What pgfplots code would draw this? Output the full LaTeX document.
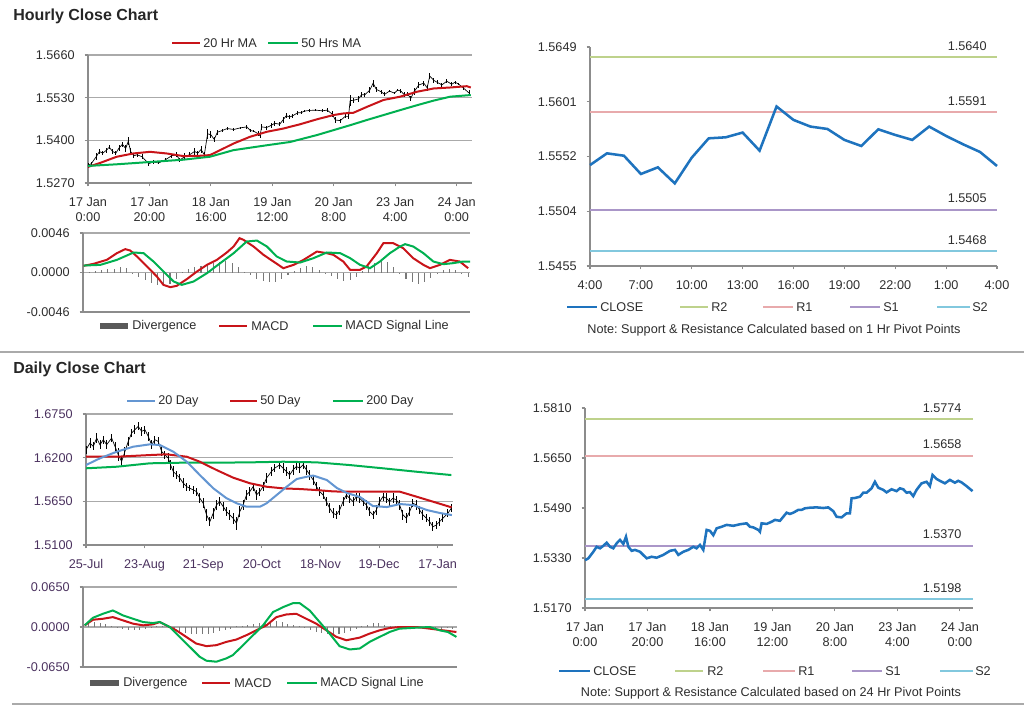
\documentclass[border=0pt]{standalone}
\usepackage{fontspec}
\setmainfont{Liberation Sans}
\usepackage{pgfplots}
\pgfplotsset{compat=1.18}
\usepackage{pgfplotstable}
\frenchspacing

\definecolor{mared}{RGB}{200,20,25}
\definecolor{magreen}{RGB}{0,176,80}
\definecolor{mablue}{RGB}{100,150,210}
\definecolor{closeblue}{RGB}{30,115,190}
\definecolor{rtwo}{RGB}{190,210,140}
\definecolor{rone}{RGB}{232,170,172}
\definecolor{sone}{RGB}{170,150,200}
\definecolor{stwo}{RGB}{130,200,222}
\definecolor{gridgray}{RGB}{170,170,170}
\definecolor{axgray}{RGB}{140,140,140}
\definecolor{divgray}{RGB}{120,120,120}
\definecolor{tickc}{RGB}{45,45,45}
\definecolor{tickd}{RGB}{75,50,95}
\definecolor{sepgray}{RGB}{170,170,170}

\newcommand\fs{\fontsize{9.5}{11.5}\selectfont}

\pgfplotstableread{
h c e
0 1.5323 0.0008
1.07 1.5329 0.0006
2.67 1.5350 0.0010
3.73 1.5366 0.0008
4.8 1.5361 0.0006
5.87 1.5369 0.0008
6.93 1.5379 0.0006
8.0 1.5366 0.0008
9.07 1.5361 0.0006
10.13 1.5377 0.0010
11.2 1.5388 0.0008
12.27 1.5375 0.0012
13.12 1.5398 0.0012
13.87 1.5366 0.0010
14.93 1.5353 0.0008
16 1.5356 0.0006
17.6 1.5350 0.0008
19.73 1.5329 0.0006
21.33 1.5334 0.0006
22.93 1.5331 0.0004
25.07 1.5340 0.0006
27.2 1.5353 0.0006
28.8 1.5356 0.0008
29.87 1.5340 0.0006
31.47 1.5350 0.0010
33.07 1.5356 0.0008
34.67 1.5366 0.0010
35.73 1.5361 0.0008
36.8 1.5372 0.0010
37.87 1.5356 0.0008
38.93 1.5420 0.0016
40 1.5417 0.0010
41.07 1.5403 0.0008
42.13 1.5425 0.0008
43.73 1.5430 0.0006
45.33 1.5436 0.0006
47.47 1.5433 0.0004
49.6 1.5438 0.0004
51.73 1.5441 0.0006
52.8 1.5430 0.0006
53.87 1.5428 0.0004
55.47 1.5420 0.0008
56 1.5414 0.0006
56.53 1.5441 0.0008
58.13 1.5439 0.0006
59.73 1.5446 0.0008
60.8 1.5452 0.0008
62.4 1.5449 0.0006
63.47 1.5462 0.0010
64.53 1.5475 0.0008
65.6 1.5471 0.0006
66.67 1.5475 0.0006
68.27 1.5484 0.0006
69.33 1.5484 0.0004
70.4 1.5489 0.0004
72 1.5491 0.0004
74.13 1.5492 0.0004
76.27 1.5490 0.0004
77.87 1.5492 0.0006
79.47 1.5480 0.0008
80.53 1.5462 0.0008
82.13 1.5460 0.0006
83.73 1.5473 0.0006
84.8 1.5473 0.0008
85.33 1.5521 0.0016
86.4 1.5522 0.0008
88 1.5526 0.0008
89.07 1.5539 0.0008
90.13 1.5539 0.0006
91.73 1.5553 0.0008
92.8 1.5574 0.0010
93.87 1.5555 0.0008
95.47 1.5548 0.0006
96.53 1.5540 0.0006
98.13 1.5550 0.0004
99.73 1.5544 0.0004
100.8 1.5553 0.0004
101.87 1.5550 0.0006
102.93 1.5539 0.0008
104 1.5541 0.0006
105.07 1.5528 0.0008
106.13 1.5548 0.0010
107.73 1.5569 0.0010
109.33 1.5574 0.0008
110.4 1.5560 0.0010
111.25 1.5596 0.0010
112.53 1.5583 0.0008
113.6 1.5577 0.0006
115.2 1.5569 0.0006
116.8 1.5580 0.0006
118.4 1.5571 0.0006
119.47 1.5577 0.0004
120.53 1.5572 0.0004
122.13 1.5560 0.0006
124.05 1.5544 0.0008
}\hourly

\pgfplotstableread{
d c e
0 1.6300 0.005
1.43 1.6384 0.006
2.62 1.6342 0.005
3.82 1.6447 0.006
5.01 1.6363 0.006
6.2 1.6426 0.005
7.4 1.6363 0.006
9.19 1.6447 0.005
10.38 1.6342 0.006
11.57 1.6236 0.008
12.77 1.6152 0.006
13.96 1.6279 0.006
15.15 1.6405 0.006
16.34 1.6510 0.005
17.54 1.6552 0.006
18.73 1.6594 0.005
19.92 1.6531 0.006
21.12 1.6552 0.005
22.31 1.6468 0.006
23.5 1.6363 0.006
24.7 1.6426 0.005
25.89 1.6405 0.006
27.08 1.6279 0.006
28.27 1.6236 0.005
29.47 1.6194 0.006
30.3 1.6110 0.006
31.26 1.6026 0.007
32.45 1.5984 0.005
33.64 1.5942 0.005
34.84 1.5879 0.006
36.03 1.5836 0.005
37.22 1.5815 0.004
38.41 1.5794 0.005
39.61 1.5773 0.005
40.8 1.5689 0.006
41.99 1.5626 0.006
43.19 1.5479 0.008
44.38 1.5394 0.006
45.57 1.5500 0.007
46.77 1.5605 0.006
47.96 1.5647 0.006
49.15 1.5584 0.006
50.34 1.5521 0.006
51.54 1.5479 0.006
52.73 1.5437 0.007
53.92 1.5373 0.008
55.12 1.5521 0.007
56.31 1.5605 0.006
57.5 1.5731 0.006
58.7 1.5773 0.006
59.89 1.5836 0.005
61.08 1.5731 0.006
62.27 1.5773 0.005
63.47 1.5836 0.006
64.66 1.5942 0.006
66.45 1.6026 0.006
67.64 1.6068 0.005
69.43 1.6110 0.005
70.63 1.6068 0.006
71.82 1.6026 0.006
73.01 1.5984 0.005
74.2 1.6047 0.006
75.4 1.6089 0.005
76.59 1.6068 0.006
77.78 1.6110 0.005
78.98 1.6047 0.006
80.17 1.5984 0.006
81.36 1.5921 0.006
82.56 1.5836 0.006
83.75 1.5773 0.006
84.94 1.5731 0.005
86.13 1.5647 0.006
87.33 1.5563 0.006
88.52 1.5500 0.006
89.71 1.5479 0.005
90.91 1.5542 0.006
92.1 1.5647 0.006
93.29 1.5731 0.005
94.49 1.5689 0.006
95.68 1.5647 0.006
96.87 1.5710 0.005
98.06 1.5689 0.006
99.26 1.5647 0.005
100.45 1.5605 0.006
101.64 1.5521 0.006
102.84 1.5479 0.005
104.03 1.5542 0.006
105.22 1.5647 0.006
106.42 1.5710 0.005
107.61 1.5689 0.006
108.8 1.5647 0.005
109.99 1.5689 0.006
111.19 1.5668 0.005
112.38 1.5605 0.006
113.57 1.5479 0.006
114.77 1.5437 0.006
115.96 1.5521 0.006
117.15 1.5626 0.005
118.35 1.5605 0.006
119.54 1.5542 0.005
120.73 1.5479 0.006
121.93 1.5437 0.005
123.12 1.5394 0.006
124.31 1.5331 0.006
125.5 1.5352 0.005
126.7 1.5394 0.005
127.89 1.5437 0.005
129.68 1.5500 0.005
130.87 1.5563 0.005
}\daily

\pgfplotsset{
  base/.style={scale only axis, anchor=north west,
    axis x line*=bottom, axis y line*=left,
    axis line style={draw=axgray, line width=0.9pt},
    tick align=outside, major tick length=2.5pt,
    tick style={draw=axgray, line width=0.8pt},
    ticklabel style={font=\fs},
    xticklabel style={align=center, yshift=-5pt},
    yticklabel style={xshift=-4pt},
    scaled y ticks=false, scaled x ticks=false,
    grid style={draw=gridgray, line width=1pt},
  },
}

\begin{document}
\begin{tikzpicture}
\path[use as bounding box] (0pt,0pt) rectangle (768pt,-529.5pt);

% ---------------- P1 hourly price
\begin{axis}[base, at={(66pt,-41.25pt)}, width=288pt, height=96pt,
  xmin=0, xmax=125, ymin=1.5270, ymax=1.5660,
  ytick={1.5270,1.5400,1.5530,1.5660},
  yticklabels={1.5270,1.5400,1.5530,1.5660},
  xtick={0,20,40,60,80,100,120},
  xticklabels={{17 Jan\\0:00},{17 Jan\\20:00},{18 Jan\\16:00},{19 Jan\\12:00},{20 Jan\\8:00},{23 Jan\\4:00},{24 Jan\\0:00}},
  ticklabel style={text=tickc},
  ymajorgrids]
\addplot[black, line width=0.5pt, mark=none,
  error bars/.cd, y dir=both, y explicit, error mark=none,
  error bar style={black, line width=0.7pt}]
  table[x=h, y=c, y error=e] {\hourly};
\addplot[mared, line width=1.5pt, mark=none] coordinates {
(0,1.5319) (3.9,1.5331) (9.34,1.5350) (14.77,1.5360) (20.2,1.5365) (25.6,1.5360)
(31.05,1.5352) (36.5,1.5353) (39.7,1.5355) (43,1.5370) (47.3,1.5390) (52.8,1.5411)
(58.2,1.5426) (63.6,1.5436) (69.05,1.5449) (74.5,1.5464) (79.9,1.5477) (83.2,1.5482)
(86.4,1.5484) (90.8,1.5502) (96.2,1.5523) (101.6,1.5533) (107.1,1.5548) (112.5,1.5558)
(117.9,1.5561) (123.3,1.5565) (124.6,1.5561)};
\addplot[magreen, line width=1.5pt, mark=none] coordinates {
(0,1.5322) (9.34,1.5327) (20.2,1.5334) (31.05,1.5341) (39.7,1.5350) (47.3,1.5370)
(58.2,1.5385) (65.8,1.5395) (74.5,1.5416) (79.9,1.5431) (85.3,1.5446) (90.8,1.5462)
(96.2,1.5477) (101.6,1.5492) (107.1,1.5507) (112.5,1.5521) (117.9,1.5533) (124.6,1.5538)};
\end{axis}

% ---------------- P2 hourly MACD
\begin{axis}[base, at={(62.25pt,-174.75pt)}, width=290.25pt, height=59.25pt,
  xmin=0, xmax=124.6, ymin=-0.0046, ymax=0.0046,
  ytick={-0.0046,0,0.0046}, yticklabels={-0.0046,0.0000,0.0046},
  xtick=\empty, ticklabel style={text=tickc}, ymajorgrids]
\addplot[ycomb, divgray, line width=0.8pt, mark=none] coordinates {
(0,0.00005) (2,0.0001) (4,0.00015) (6,0.00025) (8,0.00035) (10,0.00045) (12,0.0006) (14,0.0005)
(16,-0.0001) (18,-0.0005) (20,-0.0009) (22,-0.0012) (24,-0.0015) (26,-0.0016) (28,-0.0013) (30,-0.0008)
(32,0.0001) (34,0.0004) (36,0.0006) (38,0.0008) (40,0.0009) (42,0.0011) (44,0.0012) (46,0.0013)
(48,0.0011) (50,0.0006) (52,0.0001) (54,-0.0003) (56,-0.0008) (58,-0.0010) (60,-0.0011) (62,-0.0011)
(64,-0.0008) (66,-0.0003) (68,0.0002) (70,0.0005) (72,0.0007) (74,0.0006) (76,0.0003) (78,-0.0001)
(80,-0.0004) (82,-0.0008) (84,-0.0010) (86,-0.0009) (88,-0.0005) (90,0.0002) (92,0.0007) (94,0.0011)
(96,0.0015) (98,0.0012) (100,0.0006) (102,-0.0002) (104,-0.0007) (106,-0.0011) (108,-0.0013) (110,-0.0011)
(112,-0.0006) (114,-0.0001) (116,0.0003) (118,0.0004) (120,0.0003) (122,-0.0001) (124,-0.0005)};
\addplot[mared, line width=1.5pt, mark=none] coordinates {
(0.2,0.00078) (3.4,0.00101) (7.7,0.00148) (10.9,0.00225) (13.6,0.00272) (15.2,0.00256)
(17.4,0.00186) (20.6,0.00070) (23.8,-0.00047) (25.9,-0.00144) (28.1,-0.00171) (30.2,-0.00155)
(33.4,-0.00078) (36.7,0.00012) (39.9,0.00089) (43.1,0.00147) (46.3,0.00233) (48.5,0.00303)
(50.4,0.00400) (51.7,0.00380) (54.9,0.00303) (58.1,0.00206) (61.3,0.00128) (64.5,0.00050)
(67.8,0.00089) (71,0.00147) (75.3,0.00244) (78.5,0.00225) (80.6,0.00206) (83.8,0.00128)
(86,0.00031) (89.2,0.00031) (91.3,0.00070) (94.6,0.00225) (96.7,0.00341) (99.9,0.00341)
(103.1,0.00283) (106.3,0.00167) (109.6,0.00089) (111.7,0.00050) (114.9,0.00089) (118.1,0.00147)
(121.3,0.00128) (124,0.00050)};
\addplot[magreen, line width=1.5pt, mark=none] coordinates {
(0.2,0.00081) (5.6,0.00089) (10.9,0.00147) (16.3,0.00233) (19.5,0.00225) (22.7,0.00128)
(25.9,0.00012) (29.2,-0.00105) (31.8,-0.00144) (35.6,-0.00105) (39.9,-0.00008) (44.2,0.00109)
(48.5,0.00225) (52.7,0.00361) (56,0.00372) (59.2,0.00303) (62.4,0.00186) (65.6,0.00128)
(69.9,0.00116) (74.2,0.00167) (78.5,0.00233) (82.8,0.00225) (86,0.00167) (89.2,0.00089)
(92.4,0.00050) (95.6,0.00128) (98.8,0.00225) (102.1,0.00303) (103.7,0.00330) (106.3,0.00303)
(109.6,0.00225) (112.8,0.00128) (116,0.00097) (119.2,0.00109) (122.4,0.00128) (124.6,0.00128)};
\end{axis}

% ---------------- P3 hourly pivot
\begin{axis}[base, at={(442.5pt,-35.25pt)}, width=305.25pt, height=164.25pt,
  clip=false,
  xmin=0, xmax=24, ymin=1.5455, ymax=1.5649,
  ytick={1.5455,1.55035,1.5552,1.56005,1.5649},
  yticklabels={1.5455,1.5504,1.5552,1.5601,1.5649},
  xtick={0,3,6,9,12,15,18,21,24},
  xticklabels={4:00,7:00,10:00,13:00,16:00,19:00,22:00,1:00,4:00},
  ticklabel style={text=tickc}]
\addplot[rtwo, line width=1.5pt, mark=none] coordinates {(0,1.5640) (24,1.5640)};
\addplot[rone, line width=1.5pt, mark=none] coordinates {(0,1.5591) (24,1.5591)};
\addplot[sone, line width=1.5pt, mark=none] coordinates {(0,1.5505) (24,1.5505)};
\addplot[stwo, line width=1.5pt, mark=none] coordinates {(0,1.5468) (24,1.5468)};
\addplot[closeblue, line width=1.9pt, mark=none] coordinates {
(0,1.55444) (1,1.55548) (2,1.55527) (3,1.55365) (4,1.55424) (5,1.55282) (6,1.55510)
(7,1.55681) (8,1.55690) (9,1.55732) (10,1.55572) (11,1.55963) (12,1.55844) (13,1.55785)
(14,1.55764) (15,1.55667) (16,1.55613) (17,1.55761) (18,1.55711) (19,1.55667) (20,1.55785)
(21,1.55702) (22,1.55628) (23,1.55560) (24,1.55436)};
\node[anchor=base east, inner sep=0, font=\fs, text=tickc, yshift=5pt] at (axis cs:23.4,1.5640) {1.5640};
\node[anchor=base east, inner sep=0, font=\fs, text=tickc, yshift=5pt] at (axis cs:23.4,1.5591) {1.5591};
\node[anchor=base east, inner sep=0, font=\fs, text=tickc, yshift=5pt] at (axis cs:23.4,1.5505) {1.5505};
\node[anchor=base east, inner sep=0, font=\fs, text=tickc, yshift=5pt] at (axis cs:23.4,1.5468) {1.5468};
\end{axis}

% ---------------- P4 daily price
\begin{axis}[base, at={(64.5pt,-310.5pt)}, width=275.25pt, height=98.25pt,
  xmin=0, xmax=131.5, ymin=1.5100, ymax=1.6750,
  ytick={1.5100,1.5650,1.6200,1.6750},
  yticklabels={1.5100,1.5650,1.6200,1.6750},
  xtick={0,21,42,63,84,105,126},
  xticklabels={25-Jul,23-Aug,21-Sep,20-Oct,18-Nov,19-Dec,17-Jan},
  ticklabel style={text=tickd}, ymajorgrids]
\addplot[black, line width=0.5pt, mark=none,
  error bars/.cd, y dir=both, y explicit, error mark=none,
  error bar style={black, line width=0.7pt}]
  table[x=d, y=c, y error=e] {\daily};
\addplot[magreen, line width=1.5pt, mark=none] coordinates {
(0,1.6066) (11,1.6086) (22.9,1.6129) (34.8,1.6137) (46.8,1.6137) (58.8,1.6141) (70.7,1.6149)
(82.6,1.6141) (94.5,1.6107) (106.4,1.6066) (118.4,1.6023) (130.9,1.5981)};
\addplot[mared, line width=1.5pt, mark=none] coordinates {
(0,1.6212) (11,1.6212) (22.9,1.6233) (28.9,1.6242) (36.1,1.6212) (40.8,1.6149) (46.8,1.6044)
(52.8,1.5947) (58.8,1.5877) (64.7,1.5834) (70.7,1.5813) (76.7,1.5805) (82.6,1.5792) (88.6,1.5775)
(93.4,1.5771) (112.5,1.5771) (118.5,1.5708) (124.4,1.5645) (131,1.5574)};
\addplot[mablue, line width=1.5pt, mark=none] coordinates {
(0,1.6107) (5,1.6192) (11,1.6275) (16.9,1.6338) (22.9,1.6368) (26.5,1.6359) (31.3,1.6275)
(36.1,1.6149) (40.8,1.5981) (45.6,1.5814) (50.4,1.5688) (54,1.5625) (57.6,1.5582) (62.3,1.5582)
(64.7,1.5625) (68.3,1.5729) (71.9,1.5834) (75.5,1.5931) (79.1,1.5960) (81.4,1.5975) (86.3,1.5918)
(89.9,1.5818) (93.5,1.5755) (98.2,1.5704) (102.8,1.5591) (107.8,1.5578) (112.5,1.5616)
(117.2,1.5603) (122.2,1.5540) (126.8,1.5503) (131.1,1.5477)};
\end{axis}

% ---------------- P5 daily MACD
\begin{axis}[base, at={(62.25pt,-440.25pt)}, width=280.5pt, height=60pt,
  xmin=0, xmax=131.5, ymin=-0.065, ymax=0.065,
  ytick={-0.065,0,0.065}, yticklabels={-0.0650,0.0000,0.0650},
  xtick=\empty, ticklabel style={text=tickd}, ymajorgrids]
\addplot[ycomb, divgray, line width=0.8pt, mark=none] coordinates {
(0,0.003) (2,0.006) (4,0.008) (6,0.007) (8,0.005) (10,0.002) (12,-0.002) (14,-0.004)
(16,-0.005) (18,-0.005) (20,-0.005) (22,-0.004) (24,-0.002) (26,0.001) (28,0.002) (30,-0.002)
(32,-0.005) (34,-0.008) (36,-0.010) (38,-0.011) (40,-0.012) (42,-0.012) (44,-0.011) (46,-0.009)
(48,-0.007) (50,-0.005) (52,-0.003) (54,0.001) (56,0.002) (58,0.003) (60,0.005) (62,0.006)
(64,0.008) (66,0.009) (68,0.010) (70,0.008) (72,0.005) (74,0.003) (76,0.001) (78,-0.002)
(80,-0.005) (82,-0.008) (84,-0.010) (86,-0.012) (88,-0.012) (90,-0.011) (92,-0.009) (94,-0.006)
(96,-0.003) (98,0.002) (100,0.004) (102,0.006) (104,0.006) (106,0.004) (108,0.002) (110,0.001)
(112,0) (114,-0.001) (116,-0.001) (118,-0.002) (120,-0.002) (122,-0.003) (124,-0.003) (126,-0.003)
(128,-0.002) (130,-0.003)};
\addplot[mared, line width=1.5pt, mark=none] coordinates {
(0.6,0.0027) (3.5,0.0118) (7,0.0134) (10.5,0.0161) (14.1,0.0107) (17.6,0.0054) (21.1,0.0027)
(24.6,0.0043) (27,0.0081) (29.3,0.0027) (32.8,-0.0054) (36.3,-0.0161) (39.8,-0.0269)
(43.4,-0.0311) (46.9,-0.0295) (50.4,-0.0242) (53.9,-0.0204) (57.4,-0.0134) (60.9,-0.0054)
(64.5,0.0027) (68,0.0161) (71.5,0.0204) (75,0.0215) (78.5,0.0134) (82,0.0054) (85.6,-0.0054)
(89.1,-0.0161) (92.6,-0.0215) (97.3,-0.0172) (100.8,-0.0107) (104.3,-0.0054) (107.8,-0.0016)
(111.3,0) (117.2,0) (121.9,-0.0027) (126.6,-0.0054) (131.3,-0.0081)};
\addplot[magreen, line width=1.5pt, mark=none] coordinates {
(0.6,0.0027) (3.5,0.0150) (7,0.0215) (10.5,0.0269) (14.1,0.0188) (17.6,0.0134) (21.1,0.0081)
(24.6,0.0064) (27,0.0081) (30.5,0) (34,-0.0161) (37.5,-0.0322) (41,-0.0483) (43.4,-0.0548)
(46.9,-0.0564) (50.4,-0.0510) (52.7,-0.0456) (56.3,-0.0295) (59.8,-0.0134) (63.3,0.0027)
(66.8,0.0242) (70.3,0.0322) (73.8,0.0387) (76.2,0.0387) (79.7,0.0269) (83.2,0.0081)
(86.7,-0.0107) (90.2,-0.0311) (93.8,-0.0365) (97.3,-0.0349) (100.8,-0.0242) (104.3,-0.0161)
(107.8,-0.0081) (111.3,-0.0027) (117.2,-0.0011) (121.9,0) (125.4,-0.0054) (128.3,-0.0081)
(131.3,-0.0161)};
\end{axis}

% ---------------- P6 daily pivot
\begin{axis}[base, at={(438.75pt,-306pt)}, width=291pt, height=150pt,
  clip=false,
  xmin=0, xmax=124.2, ymin=1.5170, ymax=1.5810,
  ytick={1.5170,1.5330,1.5490,1.5650,1.5810},
  yticklabels={1.5170,1.5330,1.5490,1.5650,1.5810},
  xtick={0,20,40,60,80,100,120},
  xticklabels={{17 Jan\\0:00},{17 Jan\\20:00},{18 Jan\\16:00},{19 Jan\\12:00},{20 Jan\\8:00},{23 Jan\\4:00},{24 Jan\\0:00}},
  ticklabel style={text=tickc}]
\addplot[rtwo, line width=1.5pt, mark=none] coordinates {(0,1.5774) (124.2,1.5774)};
\addplot[rone, line width=1.5pt, mark=none] coordinates {(0,1.5658) (124.2,1.5658)};
\addplot[sone, line width=1.5pt, mark=none] coordinates {(0,1.5370) (124.2,1.5370)};
\addplot[stwo, line width=1.5pt, mark=none] coordinates {(0,1.5198) (124.2,1.5198)};
\addplot[closeblue, line width=1.9pt, mark=none] table[x=h, y=c] {\hourly};
\node[anchor=base east, inner sep=0, font=\fs, text=tickc, yshift=5pt] at (axis cs:120.6,1.5774) {1.5774};
\node[anchor=base east, inner sep=0, font=\fs, text=tickc, yshift=5pt] at (axis cs:120.6,1.5658) {1.5658};
\node[anchor=base east, inner sep=0, font=\fs, text=tickc, yshift=5pt] at (axis cs:120.6,1.5370) {1.5370};
\node[anchor=base east, inner sep=0, font=\fs, text=tickc, yshift=5pt] at (axis cs:120.6,1.5198) {1.5198};
\end{axis}

% ---------------- titles, legends, separators
\begin{scope}[x=0.75pt, y=-0.75pt, every node/.style={font=\fs, text=tickc, inner sep=0}]
\node[anchor=west, font=\fontsize{12}{14}\selectfont\bfseries, text=black!85] at (13,16) {Hourly Close Chart};
\node[anchor=west, font=\fontsize{12}{14}\selectfont\bfseries, text=black!85] at (13,369) {Daily Close Chart};
\draw[sepgray, line width=1.5pt] (0,352) -- (1024,352);
\draw[sepgray, line width=1.5pt] (12,704) -- (1024,704);
% P1 legend
\draw[mared, line width=1.5pt] (172,43) -- (200,43); \node[anchor=west] at (203,43) {20 Hr MA};
\draw[magreen, line width=1.5pt] (268,43) -- (298,43); \node[anchor=west] at (301,43) {50 Hrs MA};
% P2 legend
\draw[black!65, line width=4pt] (100,326) -- (128,326); \node[anchor=west] at (132,326) {Divergence};
\draw[mared, line width=1.5pt] (219,326) -- (247,326); \node[anchor=west] at (251,326) {MACD};
\draw[magreen, line width=1.5pt] (313,326) -- (342,326); \node[anchor=west] at (345,326) {MACD Signal Line};
% P3 legend
\draw[closeblue, line width=1.5pt] (567,307) -- (597,307); \node[anchor=west] at (600,307) {CLOSE};
\draw[rtwo, line width=1.2pt] (680,307) -- (708,307); \node[anchor=west] at (711,307) {R2};
\draw[rone, line width=1.2pt] (763,307) -- (793,307); \node[anchor=west] at (796,307) {R1};
\draw[sone, line width=1.2pt] (850,307) -- (880,307); \node[anchor=west] at (883,307) {S1};
\draw[stwo, line width=1.2pt] (937,307) -- (970,307); \node[anchor=west] at (972,307) {S2};
\node at (774,330) {Note: Support \& Resistance Calculated based on 1 Hr Pivot Points};
% P4 legend
\draw[mablue, line width=1.5pt] (127,401) -- (155,401); \node[anchor=west] at (158,401) {20 Day};
\draw[mared, line width=1.5pt] (230,401) -- (257,401); \node[anchor=west] at (260,401) {50 Day};
\draw[magreen, line width=1.5pt] (333,401) -- (363,401); \node[anchor=west] at (366,401) {200 Day};
% P5 legend
\draw[black!65, line width=4pt] (90,683) -- (119,683); \node[anchor=west] at (123,683) {Divergence};
\draw[mared, line width=1.5pt] (202,683) -- (230,683); \node[anchor=west] at (234,683) {MACD};
\draw[magreen, line width=1.5pt] (287,683) -- (317,683); \node[anchor=west] at (320,683) {MACD Signal Line};
% P6 legend
\draw[closeblue, line width=1.5pt] (559,671) -- (590,671); \node[anchor=west] at (593,671) {CLOSE};
\draw[rtwo, line width=1.2pt] (675,671) -- (703,671); \node[anchor=west] at (707,671) {R2};
\draw[rone, line width=1.2pt] (763,671) -- (795,671); \node[anchor=west] at (798,671) {R1};
\draw[sone, line width=1.2pt] (852,671) -- (882,671); \node[anchor=west] at (885,671) {S1};
\draw[stwo, line width=1.2pt] (940,671) -- (973,671); \node[anchor=west] at (975,671) {S2};
\node at (771,693) {Note: Support \& Resistance Calculated based on 24 Hr Pivot Points};
\end{scope}
\end{tikzpicture}
\end{document}
